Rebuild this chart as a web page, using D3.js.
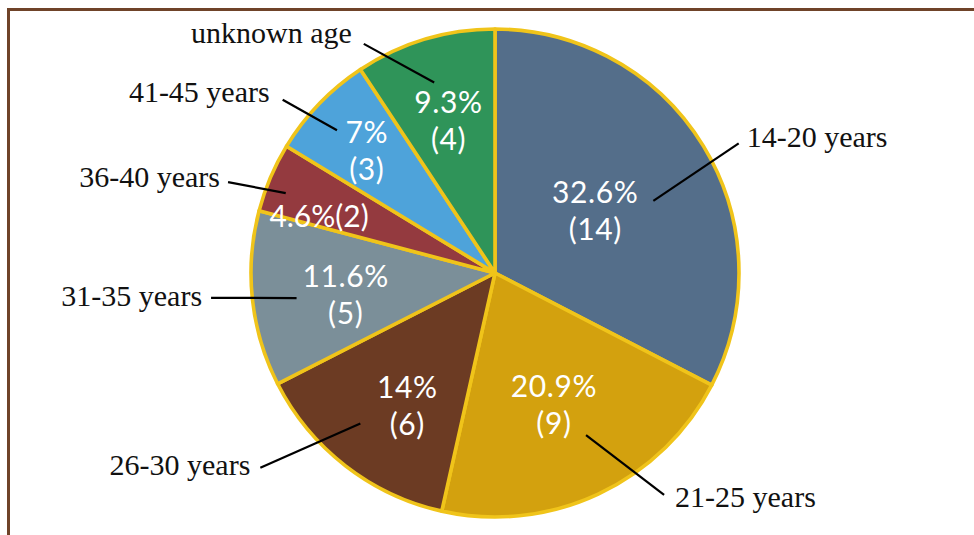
<!DOCTYPE html>
<html>
<head>
<meta charset="utf-8">
<script src="https://cdn.jsdelivr.net/npm/d3@7"></script>
<style>
  html, body { margin: 0; padding: 0; background: #ffffff; }
  svg { display: block; }
</style>
</head>
<body>
<svg id="chart" width="974" height="535"></svg>
<script>
// Age groups, clockwise from 12 o'clock
const categories = ["14-20 years", "21-25 years", "26-30 years", "31-35 years", "36-40 years", "41-45 years", "unknown age"];
const counts = [14, 9, 6, 5, 2, 3, 4];
const percents = [32.6, 20.9, 14, 11.6, 4.6, 7, 9.3];
const colors = ["#546e8a", "#d3a10e", "#6c3b23", "#7b8f99", "#943a3f", "#4ea3da", "#2f9459"];

// Label layout (polar, degrees clockwise from top, radius in px from pie centre)
const innerLabel = [
  { a: 58.2, r: 118, oneLine: false },
  { a: 156, r: 145, oneLine: false },
  { a: 213.5, r: 159, oneLine: false },
  { a: 261.6, r: 151, oneLine: false },
  { a: 288, r: 185, oneLine: true },
  { a: 313.6, r: 177, oneLine: false },
  { a: 343, r: 159, oneLine: false }
];
const leader = [
  { inA: 65.5, inR: 174, outA: 62, outR: 276, side: "right", dx: 8, dy: 4 },
  { inA: 150.7, inR: 186, outA: 142.7, outR: 279, side: "right", dx: 11, dy: 12 },
  { inA: 221.8, inR: 202, outA: 230.3, outR: 305, side: "left", dx: -10, dy: 7 },
  { inA: 262.8, inR: 200, outA: 265, outR: 285, side: "left", dx: -9, dy: 8 },
  { inA: 290.9, inR: 224, outA: 288.8, outR: 282, side: "left", dx: -8, dy: 5 },
  { inA: 312.1, inR: 213, outA: 309.2, outR: 274, side: "left", dx: -13, dy: 2 },
  { inA: 342.3, inR: 200, outA: 330.2, outR: 264, side: "left", dx: -12, dy: -1 }
];

const W = 974, H = 535;
const cx = 495, cy = 273, R = 244;
const svg = d3.select("#chart");

// Frame (top and left rules)
svg.append("line").attr("x1", 8.5).attr("y1", 9.5).attr("x2", W).attr("y2", 9.5)
  .attr("stroke", "#6f4329").attr("stroke-width", 3);
svg.append("line").attr("x1", 8.5).attr("y1", 8).attr("x2", 8.5).attr("y2", H)
  .attr("stroke", "#6f4329").attr("stroke-width", 3);

const g = svg.append("g").attr("transform", `translate(${cx},${cy})`);

const data = categories.map((c, i) => ({ cat: c, count: counts[i], pct: percents[i], color: colors[i], i }));

const pie = d3.pie().sort(null).value(d => d.pct).startAngle(0).endAngle(2 * Math.PI);
const arc = d3.arc().innerRadius(0).outerRadius(R);
const arcs = pie(data);

g.selectAll("path.slice").data(arcs).join("path")
  .attr("class", "slice")
  .attr("d", arc)
  .attr("fill", d => d.data.color)
  .attr("stroke", "#f0c41a")
  .attr("stroke-width", 3.6)
  .attr("stroke-linejoin", "round");

const rad = deg => deg * Math.PI / 180;
const pctText = p => d3.format(".1f")(p).replace(/\.0$/, "") + "%";

// Leader lines
g.selectAll("line.leader").data(arcs).join("line")
  .attr("class", "leader")
  .each(function (d) {
    const L = leader[d.data.i];
    const p0 = d3.pointRadial(rad(L.inA), L.inR);
    const p1 = d3.pointRadial(rad(L.outA), L.outR);
    d3.select(this).attr("x1", p0[0]).attr("y1", p0[1]).attr("x2", p1[0]).attr("y2", p1[1]);
  })
  .attr("stroke", "#000").attr("stroke-width", 2.2);

// Category labels outside the pie
g.selectAll("text.cat").data(arcs).join("text")
  .attr("class", "cat")
  .each(function (d) {
    const L = leader[d.data.i];
    const p1 = d3.pointRadial(rad(L.outA), L.outR);
    d3.select(this).attr("x", p1[0] + L.dx).attr("y", p1[1] + L.dy)
      .attr("text-anchor", L.side === "right" ? "start" : "end");
  })
  .attr("font-family", "'Liberation Serif', 'DejaVu Serif', serif")
  .attr("font-size", 30)
  .attr("fill", "#111")
  .text(d => d.data.cat);

// Value labels inside the slices
const vals = g.selectAll("text.val").data(arcs).join("text")
  .attr("class", "val")
  .attr("font-family", "Lato, 'Open Sans', sans-serif")
  .attr("font-size", 30)
  .attr("fill", "#ffffff")
  .attr("text-anchor", "middle");

vals.each(function (d) {
  const P = innerLabel[d.data.i];
  const p = d3.pointRadial(rad(P.a), P.r);
  const t = d3.select(this);
  if (P.oneLine) {
    t.attr("letter-spacing", 0)
      .append("tspan").attr("x", p[0]).attr("y", p[1] + 11)
      .text(pctText(d.data.pct) + "(" + d.data.count + ")");
  } else {
    t.attr("letter-spacing", 0.6);
    t.append("tspan").attr("x", p[0]).attr("y", p[1] - 8).text(pctText(d.data.pct));
    t.append("tspan").attr("x", p[0]).attr("y", p[1] + 29).text("(" + d.data.count + ")");
  }
});
</script>
</body>
</html>
